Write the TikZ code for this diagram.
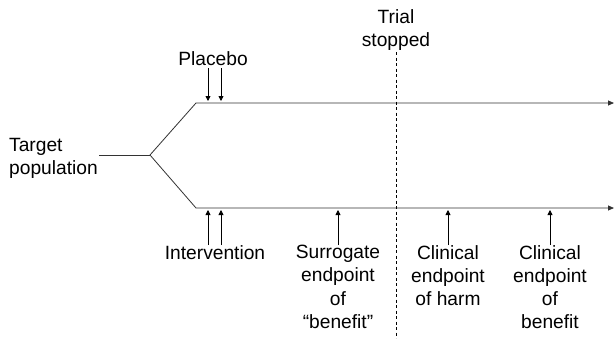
\documentclass[tikz,border=0pt]{standalone}
\usepackage{fontspec}
\setmainfont{Liberation Sans}
\usetikzlibrary{arrows.meta}
\begin{document}
\begin{tikzpicture}[x=1pt,y=-1pt,
  lbl/.style={inner sep=0pt,align=center,font=\fontsize{19.2}{23.2}\selectfont},
  track/.style={line width=0.8pt,draw=black!80},
  arr/.style={line width=0.8pt,-{Triangle[length=5pt,width=5pt]}},
  trackarr/.style={track,-{Triangle[length=6pt,width=5pt]}}]
\useasboundingbox[fill=white] (0,0) rectangle (614,338);
% coordinates
\coordinate (t0) at (99,155);
\coordinate (split) at (150,155);
\coordinate (ub) at (196,103);
\coordinate (ue) at (614,103);
\coordinate (lb) at (196,208);
\coordinate (le) at (614,208);
\coordinate (p1) at (208,101);
\coordinate (p2) at (221,101);
\coordinate (i1) at (208,210);
\coordinate (i2) at (221,210);
\coordinate (s1) at (338,210);
\coordinate (h1) at (448,210);
\coordinate (b1) at (550,210);
\coordinate (d0) at (396,52);
\coordinate (d1) at (396,338);
% texts
\node[lbl,anchor=north west,align=left] (target) at (9,138) {Target\\population};
\node[lbl,anchor=base,inner ysep=3pt] (placebo) at (213,65) {Placebo};
\node[lbl,anchor=north] (trial) at (396,9) {Trial\\stopped};
\node[lbl,anchor=north] (interv) at (215,245) {Intervention};
\node[lbl,anchor=north] (surr) at (338,245) {Surrogate\\endpoint\\of\\“benefit”};
\node[lbl,anchor=north] (harm) at (448,245) {Clinical\\endpoint\\of harm};
\node[lbl,anchor=north] (ben) at (550,245) {Clinical\\endpoint\\of\\benefit};
% tracks
\draw[track] (t0) -- (split);
\draw[trackarr] (split) -- (ub) -- (ue);
\draw[trackarr] (split) -- (lb) -- (le);
\draw[line width=0.7pt,dash pattern=on 3pt off 2.5pt] (d0) -- (d1);
% arrows
\draw[arr] (placebo.south -| p1) -- (p1);
\draw[arr] (placebo.south -| p2) -- (p2);
\draw[arr] (interv.north -| i1) -- (i1);
\draw[arr] (interv.north -| i2) -- (i2);
\draw[arr] (surr.north) -- (s1);
\draw[arr] (harm.north) -- (h1);
\draw[arr] (ben.north) -- (b1);
\end{tikzpicture}
\end{document}
